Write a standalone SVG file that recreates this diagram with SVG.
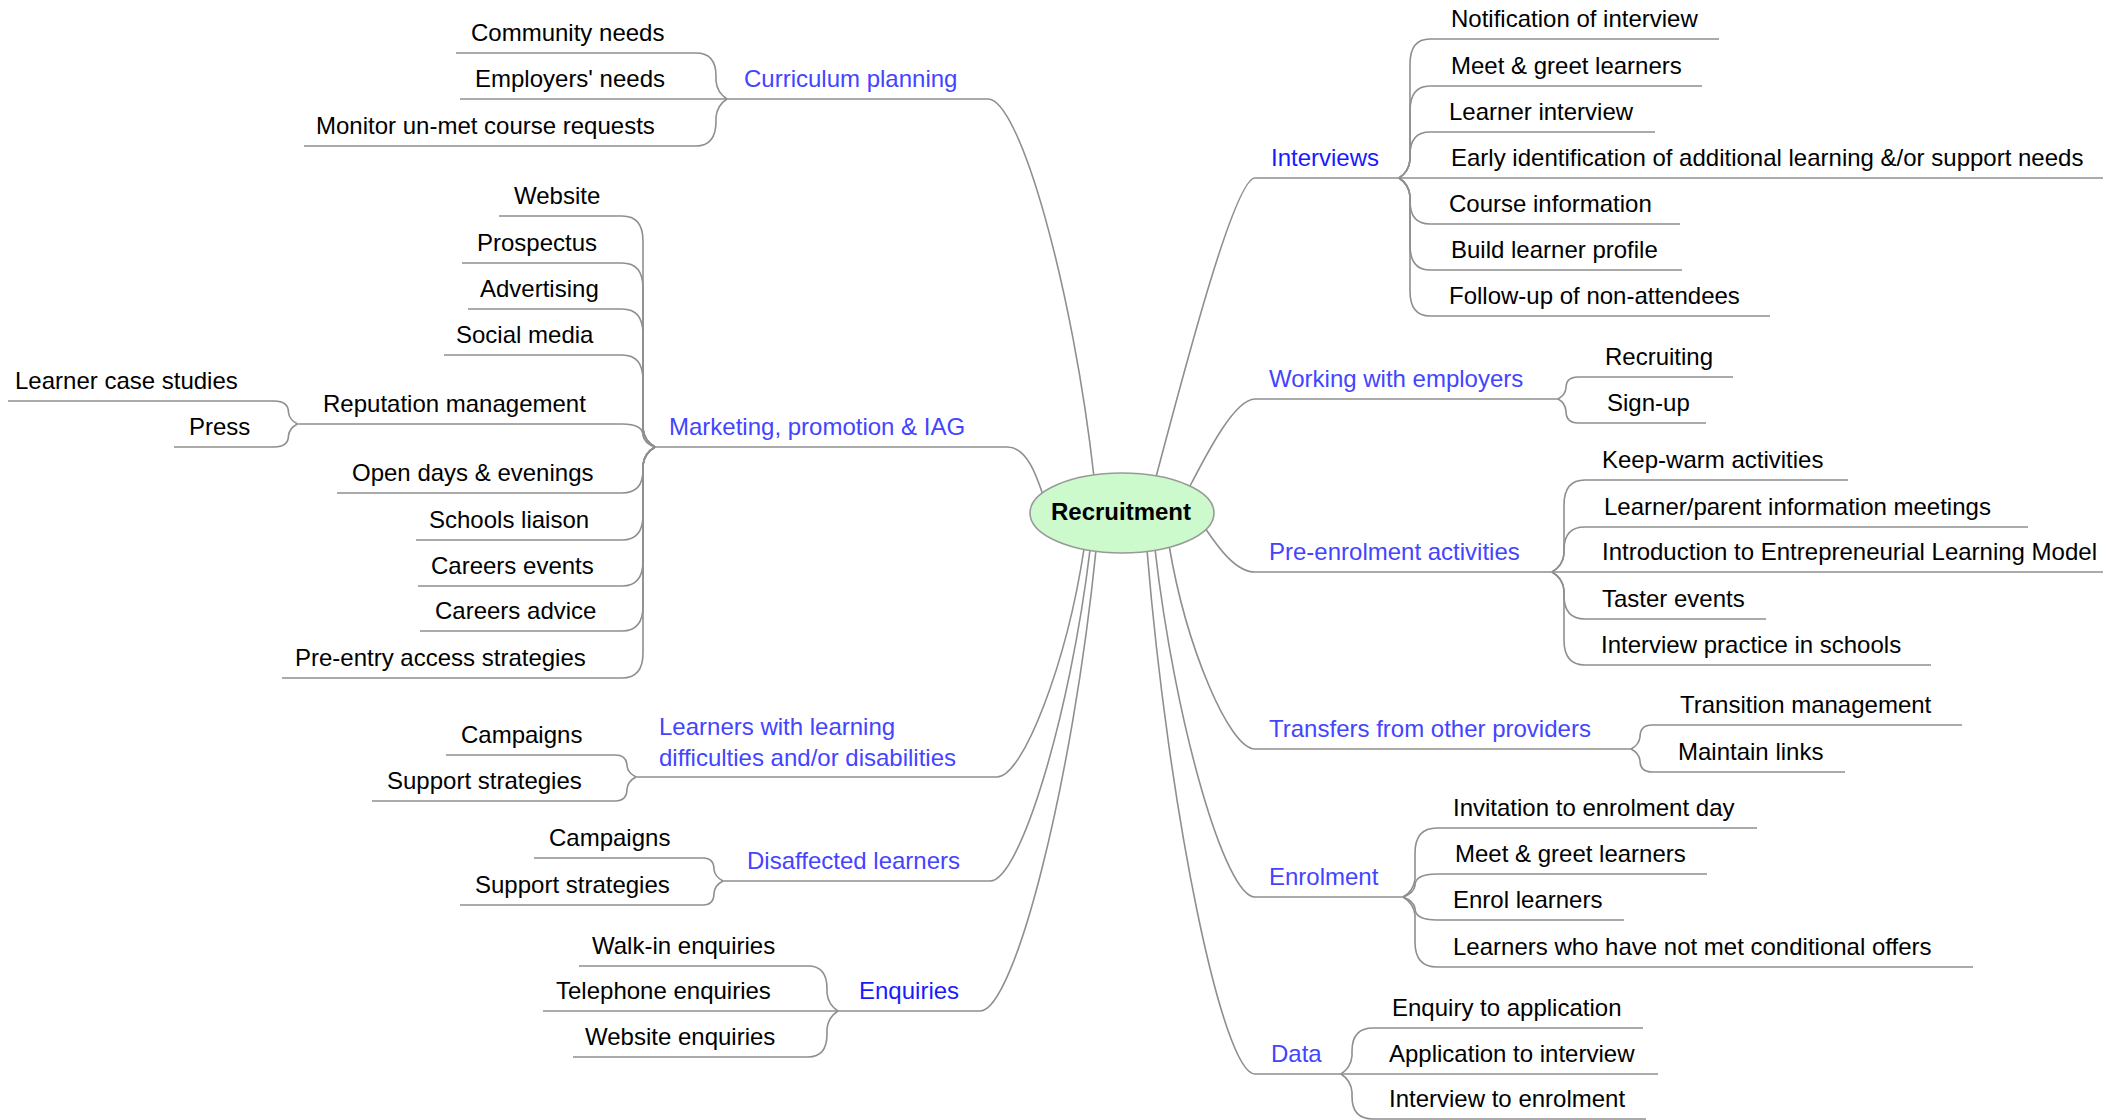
<svg xmlns="http://www.w3.org/2000/svg" width="2116" height="1120" viewBox="0 0 2116 1120">
<style>
text{font-family:"Liberation Sans",Arial,sans-serif;font-size:24px;}
.t{fill:#000;}
.bl{fill:#4444ff;}
.bd{fill:#1a1aff;}
.c{fill:none;stroke:#8f8f8f;stroke-width:1.6;}
.root{fill:#ccfacc;stroke:#999;stroke-width:1.6;}
.rt{font-weight:bold;fill:#000;text-anchor:middle;}
</style>
<rect width="2116" height="1120" fill="#fff"/>
<g id="connectors">
<!-- branches from root -->
<path class="c" d="M1094,477 C1072.8,288 1019.8,99 988,99 L727,99"/>
<path class="c" d="M1043,495 C1036.6,475.8 1027,447 1007,447 L655,447"/>
<path class="c" d="M1084,549 C1066.6,663 1023.1,777 997,777 L636,777"/>
<path class="c" d="M1090,550 C1070,715.5 1020,881 990,881 L723,881"/>
<path class="c" d="M1096,550 C1072.8,780.5 1014.8,1011 980,1011 L838,1011"/>
<path class="c" d="M1156,477 C1187.6,357.4 1235,178 1255,178 L1399,178"/>
<path class="c" d="M1190,486 C1208,451.2 1235,399 1255,399 L1558,399"/>
<path class="c" d="M1205,528 C1217,545.6 1235,572 1255,572 L1552,572"/>
<path class="c" d="M1169,545 C1186.2,647 1229.2,749 1255,749 L1631,749"/>
<path class="c" d="M1155,549 C1175,723 1225,897 1255,897 L1403,897"/>
<path class="c" d="M1147,550 C1168.6,812 1222.6,1074 1255,1074 L1341,1074"/>
<!-- Curriculum planning children -->
<path class="c" d="M727,99 Q717.1,92.7 716,81 L716,76 Q716,53 696,53 L456,53"/>
<path class="c" d="M727,99 L460,99"/>
<path class="c" d="M727,99 Q717.1,105.3 716,117 L716,121 Q716,146 696,146 L304,146"/>
<!-- Marketing children -->
<path class="c" d="M655,447 Q644.2,440.7 643,429 L643,241 Q643,216 622,216 L499,216"/>
<path class="c" d="M655,447 Q644.2,440.7 643,429 L643,288 Q643,263 622,263 L462,263"/>
<path class="c" d="M655,447 Q644.2,440.7 643,429 L643,334 Q643,309 622,309 L468,309"/>
<path class="c" d="M655,447 Q644.2,440.7 643,429 L643,380 Q643,355 622,355 L444,355"/>
<path class="c" d="M655,447 Q644.2,443 643,435.5 Q643,424 622,424 L297.5,424"/>
<path class="c" d="M655,447 Q644.2,453.3 643,465 L643,470 Q643,493 622,493 L337,493"/>
<path class="c" d="M655,447 Q644.2,453.3 643,465 L643,515 Q643,540 622,540 L416,540"/>
<path class="c" d="M655,447 Q644.2,453.3 643,465 L643,561 Q643,586 622,586 L418,586"/>
<path class="c" d="M655,447 Q644.2,453.3 643,465 L643,606 Q643,631 622,631 L420,631"/>
<path class="c" d="M655,447 Q644.2,453.3 643,465 L643,653 Q643,678 622,678 L282,678"/>
<!-- Reputation management children -->
<path class="c" d="M297.5,424 Q289.4,420 288.5,412.5 Q288.5,401 274,401 L8,401"/>
<path class="c" d="M297.5,424 Q289.4,428 288.5,435.5 Q288.5,447 274,447 L174,447"/>
<!-- LLDD children -->
<path class="c" d="M636,777 Q627.9,773 627,766 Q627,755 615,755 L446,755"/>
<path class="c" d="M636,777 Q627.9,781.2 627,789 Q627,801 615,801 L372,801"/>
<!-- Disaffected children -->
<path class="c" d="M723,881 Q714.9,877 714,869.5 Q714,858 703,858 L534,858"/>
<path class="c" d="M723,881 Q714.9,885.2 714,893 Q714,905 703,905 L460,905"/>
<!-- Enquiries children -->
<path class="c" d="M838,1011 Q828.1,1004.7 827,993 L827,988.5 Q827,966 808,966 L579,966"/>
<path class="c" d="M838,1011 L543,1011"/>
<path class="c" d="M838,1011 Q828.1,1017.3 827,1029 L827,1034 Q827,1057 808,1057 L573,1057"/>
<!-- Interviews children -->
<path class="c" d="M1399,178 Q1408.9,171.7 1410,160 L1410,64 Q1410,39 1430,39 L1719,39"/>
<path class="c" d="M1399,178 Q1408.9,171.7 1410,160 L1410,111 Q1410,86 1430,86 L1702,86"/>
<path class="c" d="M1399,178 Q1408.9,171.7 1410,160 L1410,155 Q1410,132 1430,132 L1655,132"/>
<path class="c" d="M1399,178 L2103,178"/>
<path class="c" d="M1399,178 Q1408.9,184.3 1410,196 L1410,201 Q1410,224 1430,224 L1680,224"/>
<path class="c" d="M1399,178 Q1408.9,184.3 1410,196 L1410,245 Q1410,270 1430,270 L1682,270"/>
<path class="c" d="M1399,178 Q1408.9,184.3 1410,196 L1410,291 Q1410,316 1430,316 L1770,316"/>
<!-- Working with employers children -->
<path class="c" d="M1558,399 Q1565.2,395.2 1566,388 Q1566,377 1578,377 L1733,377"/>
<path class="c" d="M1558,399 Q1565.2,402.8 1566,411 Q1566,423 1578,423 L1706,423"/>
<!-- Pre-enrolment children -->
<path class="c" d="M1552,572 Q1562.8,565.7 1564,554 L1564,505 Q1564,480 1585,480 L1848,480"/>
<path class="c" d="M1552,572 Q1562.8,565.7 1564,554 L1564,549.5 Q1564,527 1585,527 L2028,527"/>
<path class="c" d="M1552,572 L2103,572"/>
<path class="c" d="M1552,572 Q1562.8,578.3 1564,590 L1564,595.5 Q1564,619 1585,619 L1766,619"/>
<path class="c" d="M1552,572 Q1562.8,578.3 1564,590 L1564,640 Q1564,665 1585,665 L1931,665"/>
<!-- Transfers children -->
<path class="c" d="M1631,749 Q1639.1,744.8 1640,737 Q1640,725 1652,725 L1962,725"/>
<path class="c" d="M1631,749 Q1639.1,753.2 1640,760.5 Q1640,772 1652,772 L1845,772"/>
<!-- Enrolment children -->
<path class="c" d="M1403,897 Q1413.8,890.7 1415,879 L1415,853 Q1415,828 1437,828 L1757,828"/>
<path class="c" d="M1403,897 Q1413.8,893 1415,885.5 Q1415,874 1437,874 L1707,874"/>
<path class="c" d="M1403,897 Q1413.8,901 1415,908.5 Q1415,920 1437,920 L1624,920"/>
<path class="c" d="M1403,897 Q1413.8,903.3 1415,915 L1415,942 Q1415,967 1437,967 L1973,967"/>
<!-- Data children -->
<path class="c" d="M1341,1074 Q1350.9,1067.7 1352,1056 L1352,1051 Q1352,1028 1373,1028 L1643,1028"/>
<path class="c" d="M1341,1074 L1658,1074"/>
<path class="c" d="M1341,1074 Q1350.9,1080.3 1352,1092 L1352,1096.5 Q1352,1119 1373,1119 L1646,1119"/>
</g>
<g id="root"><ellipse class="root" cx="1122" cy="513" rx="92" ry="40"/><text class="rt" x="1121" y="520">Recruitment</text></g>
<g id="curriculum"><text class="bl" x="744" y="87">Curriculum planning</text></g>
<g id="community"><text class="t" x="471" y="41">Community needs</text></g>
<g id="employers-needs"><text class="t" x="475" y="87">Employers' needs</text></g>
<g id="monitor"><text class="t" x="316" y="134">Monitor un-met course requests</text></g>
<g id="marketing"><text class="bl" x="669" y="435">Marketing, promotion &amp; IAG</text></g>
<g id="website"><text class="t" x="514" y="204">Website</text></g>
<g id="prospectus"><text class="t" x="477" y="251">Prospectus</text></g>
<g id="advertising"><text class="t" x="480" y="297">Advertising</text></g>
<g id="social"><text class="t" x="456" y="343">Social media</text></g>
<g id="reputation"><text class="t" x="323" y="412">Reputation management</text></g>
<g id="casestudies"><text class="t" x="15" y="389">Learner case studies</text></g>
<g id="press"><text class="t" x="189" y="435">Press</text></g>
<g id="opendays"><text class="t" x="352" y="481">Open days &amp; evenings</text></g>
<g id="schools"><text class="t" x="429" y="528">Schools liaison</text></g>
<g id="careersevents"><text class="t" x="431" y="574">Careers events</text></g>
<g id="careersadvice"><text class="t" x="435" y="619">Careers advice</text></g>
<g id="preentry"><text class="t" x="295" y="666">Pre-entry access strategies</text></g>
<g id="lldd"><text class="bl" x="659" y="735">Learners with learning</text><text class="bl" x="659" y="766">difficulties and/or disabilities</text></g>
<g id="lldd-campaigns"><text class="t" x="461" y="743">Campaigns</text></g>
<g id="lldd-support"><text class="t" x="387" y="789">Support strategies</text></g>
<g id="disaffected"><text class="bl" x="747" y="869">Disaffected learners</text></g>
<g id="dis-campaigns"><text class="t" x="549" y="846">Campaigns</text></g>
<g id="dis-support"><text class="t" x="475" y="893">Support strategies</text></g>
<g id="enquiries"><text class="bd" x="859" y="999">Enquiries</text></g>
<g id="walkin"><text class="t" x="592" y="954">Walk-in enquiries</text></g>
<g id="telephone"><text class="t" x="556" y="999">Telephone enquiries</text></g>
<g id="webenq"><text class="t" x="585" y="1045">Website enquiries</text></g>
<g id="interviews"><text class="bd" x="1271" y="166">Interviews</text></g>
<g id="notification"><text class="t" x="1451" y="27">Notification of interview</text></g>
<g id="meet1"><text class="t" x="1451" y="74">Meet &amp; greet learners</text></g>
<g id="learnerinterview"><text class="t" x="1449" y="120">Learner interview</text></g>
<g id="early"><text class="t" x="1451" y="166">Early identification of additional learning &amp;/or support needs</text></g>
<g id="courseinfo"><text class="t" x="1449" y="212">Course information</text></g>
<g id="profile"><text class="t" x="1451" y="258">Build learner profile</text></g>
<g id="followup"><text class="t" x="1449" y="304">Follow-up of non-attendees</text></g>
<g id="working"><text class="bl" x="1269" y="387">Working with employers</text></g>
<g id="recruiting"><text class="t" x="1605" y="365">Recruiting</text></g>
<g id="signup"><text class="t" x="1607" y="411">Sign-up</text></g>
<g id="preenrol"><text class="bl" x="1269" y="560">Pre-enrolment activities</text></g>
<g id="keepwarm"><text class="t" x="1602" y="468">Keep-warm activities</text></g>
<g id="parentinfo"><text class="t" x="1604" y="515">Learner/parent information meetings</text></g>
<g id="intro"><text class="t" x="1602" y="560">Introduction to Entrepreneurial Learning Model</text></g>
<g id="taster"><text class="t" x="1602" y="607">Taster events</text></g>
<g id="practice"><text class="t" x="1601" y="653">Interview practice in schools</text></g>
<g id="transfers"><text class="bl" x="1269" y="737">Transfers from other providers</text></g>
<g id="transition"><text class="t" x="1680" y="713">Transition management</text></g>
<g id="links"><text class="t" x="1678" y="760">Maintain links</text></g>
<g id="enrolment"><text class="bl" x="1269" y="885">Enrolment</text></g>
<g id="invitation"><text class="t" x="1453" y="816">Invitation to enrolment day</text></g>
<g id="meet2"><text class="t" x="1455" y="862">Meet &amp; greet learners</text></g>
<g id="enrol"><text class="t" x="1453" y="908">Enrol learners</text></g>
<g id="conditional"><text class="t" x="1453" y="955">Learners who have not met conditional offers</text></g>
<g id="data"><text class="bl" x="1271" y="1062">Data</text></g>
<g id="enq2app"><text class="t" x="1392" y="1016">Enquiry to application</text></g>
<g id="app2int"><text class="t" x="1389" y="1062">Application to interview</text></g>
<g id="int2enrol"><text class="t" x="1389" y="1107">Interview to enrolment</text></g>
</svg>
